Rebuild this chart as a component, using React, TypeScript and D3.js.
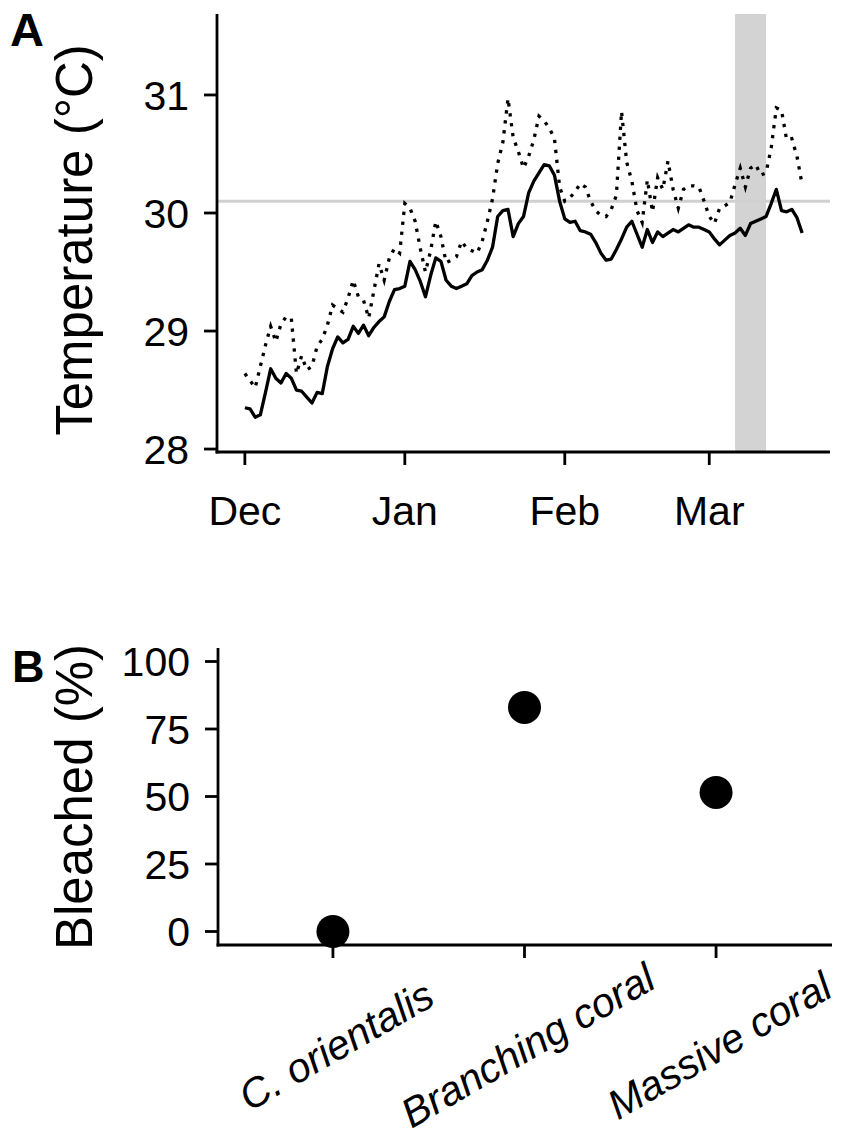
import React from "react";
import * as d3 from "d3";

// Daily sea temperature, 1 Dec – 19 Mar (°C)
const dailyMean: number[] = [
  28.35, 28.34, 28.27, 28.29, 28.48, 28.68, 28.6, 28.56, 28.64, 28.6,
  28.5, 28.49, 28.44, 28.39, 28.48, 28.47, 28.7, 28.85, 28.95, 28.9,
  28.93, 29.04, 28.98, 29.05, 28.96, 29.03, 29.08, 29.12, 29.25, 29.35,
  29.36, 29.38, 29.59, 29.52, 29.42, 29.29, 29.47, 29.62, 29.59, 29.43,
  29.38, 29.36, 29.38, 29.4, 29.47, 29.5, 29.52, 29.6, 29.71, 29.97,
  30.02, 30.03, 29.8, 29.91, 29.97, 30.17, 30.27, 30.34, 30.41, 30.4,
  30.32, 30.1, 29.95, 29.92, 29.93, 29.85, 29.84, 29.82, 29.75, 29.66,
  29.6, 29.61, 29.69, 29.78, 29.88, 29.93, 29.82, 29.71, 29.86, 29.75,
  29.84, 29.8, 29.83, 29.86, 29.84, 29.87, 29.9, 29.88, 29.88, 29.86,
  29.84, 29.78, 29.73, 29.77, 29.81, 29.83, 29.87, 29.81, 29.91, 29.93,
  29.95, 29.97, 30.08, 30.2, 30.02, 30.01, 30.03, 29.96, 29.83,
];

const dailyMax: number[] = [
  28.64, 28.58, 28.52, 28.7, 28.88, 29.04, 28.91, 29.06, 29.12, 29.11,
  28.64, 28.79, 28.67, 28.7, 28.87, 28.93, 29.05, 29.22, 29.19, 29.16,
  29.28, 29.43, 29.29, 29.26, 29.11, 29.34, 29.57, 29.43, 29.62, 29.7,
  29.66, 30.08, 30.04, 29.93, 29.7, 29.5, 29.68, 29.93, 29.8, 29.58,
  29.6, 29.63, 29.76, 29.7, 29.68, 29.66, 29.76, 29.93, 30.12, 30.42,
  30.6, 30.97, 30.64, 30.52, 30.38, 30.48, 30.62, 30.82, 30.78, 30.72,
  30.63, 30.22, 30.1, 30.13, 30.18, 30.25, 30.22, 30.1, 30.02, 29.98,
  29.97, 30.03, 30.15, 30.86, 30.43, 30.27, 30.02, 29.92, 30.28, 30.01,
  30.3, 30.2, 30.44, 30.2, 30.04, 30.2, 30.23, 30.23, 30.22, 30.1,
  29.97, 29.91, 30.04, 30.06, 30.09, 30.24, 30.38, 30.22, 30.38, 30.41,
  30.32, 30.34, 30.55, 30.89, 30.87, 30.62, 30.63, 30.48, 30.24,
];

const seriesStart = new Date(2016, 11, 1);
const bleachingThreshold = 30.1;
const bleachingWindow: [Date, Date] = [new Date(2017, 2, 6), new Date(2017, 2, 12)];
const tempTicks: number[] = [28, 29, 30, 31];

// Bleaching survey
const taxa: string[] = ["C. orientalis", "Branching coral", "Massive coral"];
const bleachedPct: number[] = [0, 83, 51.5];
const pctTicks: number[] = [0, 25, 50, 75, 100];

const FONT = "'Liberation Sans', Arial, Helvetica, sans-serif";
const TICK_FS = 41;
const TITLE_FS = 51;
const AXIS_W = 2.8;
const LINE_W = 3.3;

export default function App() {
  const dates = dailyMean.map((_, i) => d3.timeDay.offset(seriesStart, i));
  const last = dates[dates.length - 1];

  // Panel A scales
  const x = d3
    .scaleTime()
    .domain([
      new Date(seriesStart.getTime() - 5.4 * 864e5),
      new Date(last.getTime() + 5.4 * 864e5),
    ])
    .range([217, 830]);
  const y = d3.scaleLinear().domain([27.975, 31.686]).range([452, 14]);

  const dayLine = d3
    .line<number>()
    .x((_, i) => x(dates[i]))
    .y((v) => y(v));

  const monthTicks = d3.timeMonth.range(seriesStart, last);
  const fmtMonth = d3.timeFormat("%b");

  // Panel B scales
  const xb = d3.scalePoint<string>().domain(taxa).range([218, 831]).padding(0.6);
  const yb = d3.scaleLinear().domain([-5, 105]).range([945, 648]);

  return (
    <svg width={843} height={1139} style={{ display: "block", margin: "-8px" }} fontFamily={FONT}>
      <rect width={843} height={1139} fill="#fff" />

      {/* ---------- Panel A: temperature ---------- */}
      <rect
        x={x(bleachingWindow[0])}
        y={14}
        width={x(bleachingWindow[1]) - x(bleachingWindow[0])}
        height={452 - 14}
        fill="#d3d3d3"
      />
      <line x1={217} x2={830} y1={y(bleachingThreshold)} y2={y(bleachingThreshold)} stroke="#d0d0d0" strokeWidth={3} />

      <path d={dayLine(dailyMax) ?? ""} fill="none" stroke="#000" strokeWidth={LINE_W} strokeDasharray="3.3 6.7" />
      <path d={dayLine(dailyMean) ?? ""} fill="none" stroke="#000" strokeWidth={LINE_W} strokeLinejoin="round" />

      {/* axes */}
      <line x1={217} x2={217} y1={14} y2={452 + AXIS_W / 2} stroke="#000" strokeWidth={AXIS_W} />
      <line x1={217 - AXIS_W / 2} x2={830} y1={452} y2={452} stroke="#000" strokeWidth={AXIS_W} />
      {tempTicks.map((t) => (
        <g key={t}>
          <line x1={204} x2={217} y1={y(t)} y2={y(t)} stroke="#000" strokeWidth={AXIS_W} />
          <text x={189} y={y(t)} dy="0.36em" textAnchor="end" fontSize={TICK_FS}>
            {t}
          </text>
        </g>
      ))}
      {monthTicks.map((m) => (
        <g key={m.getTime()}>
          <line x1={x(m)} x2={x(m)} y1={452} y2={465} stroke="#000" strokeWidth={AXIS_W} />
          <text x={x(m)} y={525} textAnchor="middle" fontSize={TICK_FS}>
            {fmtMonth(m)}
          </text>
        </g>
      ))}
      <text transform="translate(92,240) rotate(-90)" textAnchor="middle" fontSize={TITLE_FS}>
        Temperature (°C)
      </text>
      <text x={10} y={46} fontSize={47} fontWeight="bold">
        A
      </text>

      {/* ---------- Panel B: bleaching ---------- */}
      <line x1={218} x2={218} y1={648} y2={945 + AXIS_W / 2} stroke="#000" strokeWidth={AXIS_W} />
      <line x1={218 - AXIS_W / 2} x2={832} y1={945} y2={945} stroke="#000" strokeWidth={AXIS_W} />
      {pctTicks.map((t) => (
        <g key={t}>
          <line x1={205} x2={218} y1={yb(t)} y2={yb(t)} stroke="#000" strokeWidth={AXIS_W} />
          <text x={190} y={yb(t)} dy="0.36em" textAnchor="end" fontSize={TICK_FS}>
            {t}
          </text>
        </g>
      ))}
      {taxa.map((c, i) => (
        <g key={c}>
          <line x1={xb(c)} x2={xb(c)} y1={945} y2={958} stroke="#000" strokeWidth={AXIS_W} />
          <circle cx={xb(c)} cy={yb(bleachedPct[i])} r={16.5} fill="#000" />
          <text
            transform={`translate(${(xb(c) ?? 0) + 3},1045) rotate(-30)`}
            textAnchor="middle"
            dy="0.36em"
            fontSize={TICK_FS}
            fontStyle="italic"
          >
            {c}
          </text>
        </g>
      ))}
      <text transform="translate(92,797) rotate(-90)" textAnchor="middle" fontSize={TITLE_FS}>
        Bleached (%)
      </text>
      <text x={12} y={682} fontSize={45} fontWeight="bold">
        B
      </text>
    </svg>
  );
}
